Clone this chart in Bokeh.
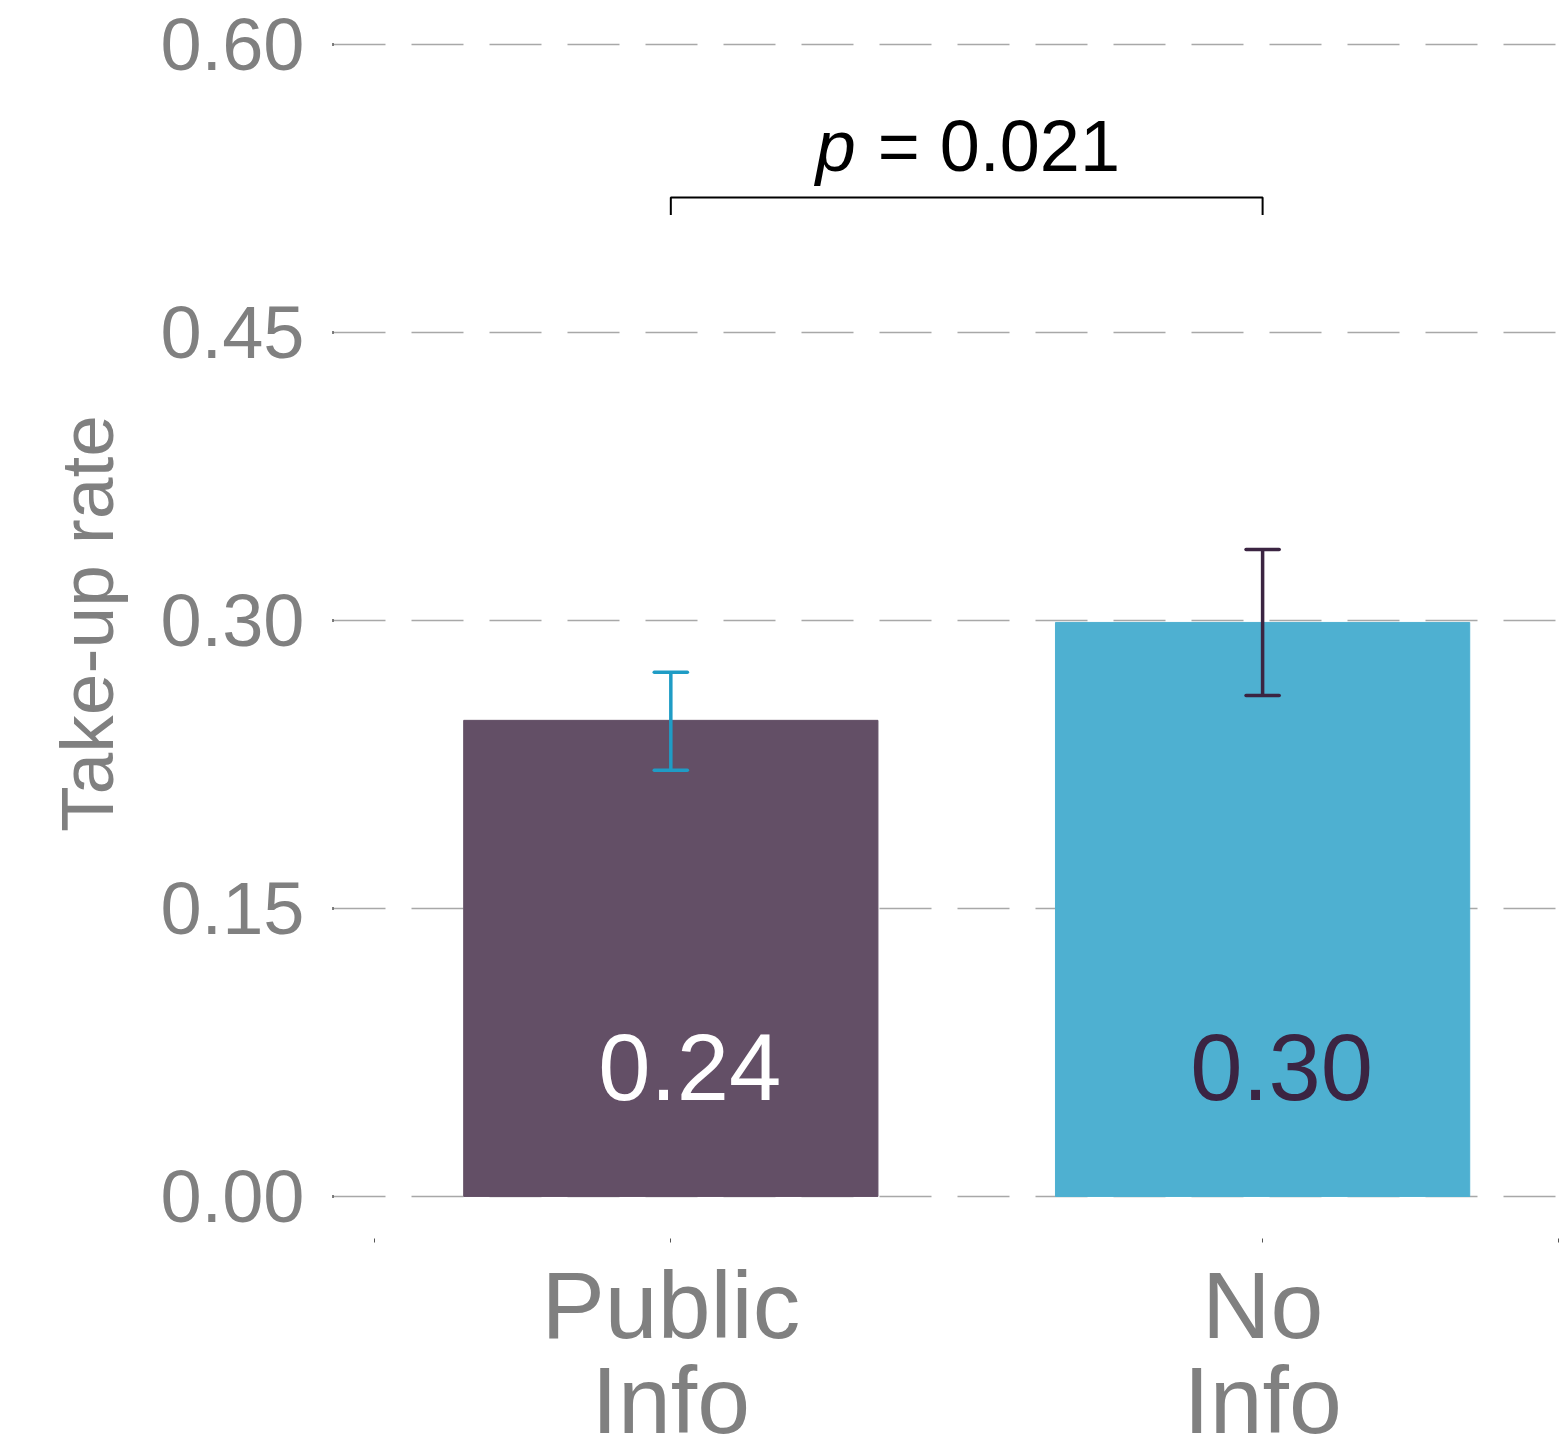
from bokeh.plotting import figure
from bokeh.models import FixedTicker, PrintfTickFormatter, Range1d
from bokeh.core.properties import value
from bokeh.embed import file_html
from bokeh.resources import INLINE

# ---- data ----
categories = ["Public\nInfo", "No\nInfo"]
rates = [0.248, 0.299]
ci_low = [0.222, 0.261]
ci_high = [0.273, 0.337]
value_labels = ["0.24", "0.30"]
y_ticks = [0.0, 0.15, 0.30, 0.45, 0.60]
p_value_label = "= 0.021"

# ---- styles ----
bar_colors = ["#634f66", "#4eb0d1"]
err_colors = ["#1f9cc5", "#3b2442"]
label_colors = ["#ffffff", "#3b2442"]
FONT = "Liberation Sans"
GRAY = "#808080"

xs = [i + 1 for i in range(len(categories))]

p = figure(
    x_range=Range1d(0.43, 2.5), y_range=Range1d(-0.0219, 0.6188),
    frame_width=1225, frame_height=1230,
    min_border_left=333, min_border_top=8, min_border_right=2, min_border_bottom=190,
    output_backend="svg", toolbar_location=None,
)
p.outline_line_color = None
p.background_fill_color = "white"

# bars
p.vbar(x=xs, top=rates, width=0.7, color=bar_colors)

# error bars
cap = 0.028
p.segment(x0=xs, y0=ci_low, x1=xs, y1=ci_high, line_color=err_colors, line_width=3.5)
p.segment(x0=[x - cap for x in xs], y0=ci_high, x1=[x + cap for x in xs], y1=ci_high,
          line_color=err_colors, line_width=3.5, line_cap="round")
p.segment(x0=[x - cap for x in xs], y0=ci_low, x1=[x + cap for x in xs], y1=ci_low,
          line_color=err_colors, line_width=3.5, line_cap="round")

# value labels inside bars
p.text(x=xs, y=[0.0672] * len(xs), text=value_labels, text_color=label_colors,
       text_font=value(FONT), text_font_size="94px", text_align="center",
       text_baseline="middle", x_offset=19)

# significance bracket
bracket_y = 0.5203
bracket_drop = 0.009
p.line(x=[xs[0], xs[0], xs[1], xs[1]],
       y=[bracket_y - bracket_drop, bracket_y, bracket_y, bracket_y - bracket_drop],
       line_color="black", line_width=2)
mid = (xs[0] + xs[1]) / 2
p.text(x=[mid], y=[0.547], text=["p"], text_font=value(FONT), text_font_style="italic",
       text_font_size="72px", text_align="left", text_baseline="middle",
       x_offset=-151, text_color="black")
p.text(x=[mid], y=[0.547], text=[p_value_label], text_font=value(FONT),
       text_font_size="72px", text_align="left", text_baseline="middle",
       x_offset=-89, text_color="black")

# grid
p.xgrid.grid_line_color = None
p.ygrid.grid_line_color = "#a8a8a8"
p.ygrid.grid_line_width = 1.5
p.ygrid.grid_line_dash = "52 26"

# x axis
p.xaxis.ticker = FixedTicker(ticks=[0.5, 1, 2, 2.5])
p.xaxis.major_label_overrides = {0.5: "", 1: categories[0], 2: categories[1], 2.5: ""}
p.xaxis.axis_line_color = None
p.xaxis.major_tick_in = 0
p.xaxis.major_tick_out = 4
p.xaxis.major_tick_line_color = "#555555"
p.xaxis.minor_tick_line_color = None
p.xaxis.major_label_text_font = FONT
p.xaxis.major_label_text_font_size = "95px"
p.xaxis.major_label_text_color = GRAY
p.xaxis.major_label_text_line_height = 0.9
p.xaxis.major_label_standoff = 9

# y axis
p.yaxis.ticker = FixedTicker(ticks=y_ticks)
p.yaxis.formatter = PrintfTickFormatter(format="%.2f")
p.yaxis.axis_line_color = None
p.yaxis.major_tick_in = 0
p.yaxis.major_tick_out = 1
p.yaxis.major_tick_line_width = 3
p.yaxis.major_tick_line_color = "black"
p.yaxis.minor_tick_line_color = None
p.yaxis.major_label_text_font = FONT
p.yaxis.major_label_text_font_size = "74px"
p.yaxis.major_label_text_color = GRAY
p.yaxis.major_label_standoff = 28
p.yaxis.axis_label = "Take-up rate"
p.yaxis.axis_label_text_font = FONT
p.yaxis.axis_label_text_font_size = "75px"
p.yaxis.axis_label_text_font_style = "normal"
p.yaxis.axis_label_text_color = GRAY
p.yaxis.axis_label_standoff = 28

open("out.html", "w").write(file_html(p, INLINE))
